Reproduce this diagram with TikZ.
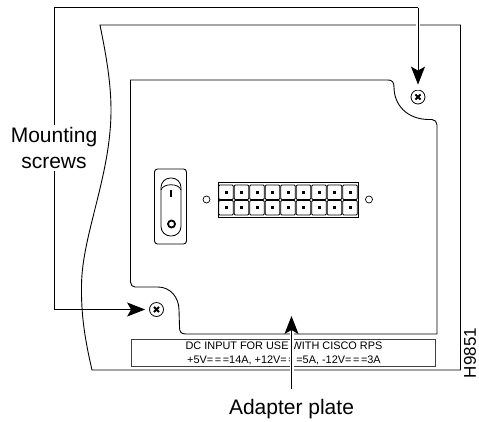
\documentclass[tikz,border=0pt]{standalone}
\usepackage{fontspec}
\setmainfont{Liberation Sans}
\usepackage{tikz}
\usetikzlibrary{shapes,arrows.meta}

\tikzset{
	outline/.style={draw=black,line width=0.9pt},
	callout/.style={draw=black,line width=0.9pt},
	halo/.style={draw=white,line width=4pt},
	tip/.style={-{Stealth[length=18pt,width=14pt,inset=4pt]}},
	biglabel/.style={font=\fontsize{21}{26}\selectfont,align=center},
	screw/.style={circle,draw=black,line width=0.8pt,minimum size=14pt,inner sep=0pt,
		path picture={\draw[line width=1.8pt] (path picture bounding box.center)+(-2.6,-2.6) -- +(2.6,2.6) (path picture bounding box.center)+(-2.6,2.6) -- +(2.6,-2.6);}},
	hole/.style={circle,draw=black,line width=0.7pt,minimum size=7pt,inner sep=0pt},
	cell/.style={rectangle,draw=black,line width=0.8pt,rounded corners=1pt,minimum width=14.5pt,minimum height=14.5pt,inner sep=0pt},
	pin/.style={rectangle,fill=black,minimum size=3pt,inner sep=0pt}
}
\newcommand{\dcsym}{=\kern1.6pt=\kern1.6pt=}

\begin{document}
\begin{tikzpicture}[x=1pt,y=-1pt]
	\useasboundingbox (0,0) rectangle (479,421);

	% chassis and plate
	\draw[outline] (100,25) -- (460.5,25) -- (460.5,370) -- (92,370)
		.. controls (85,340) and (81,315) .. (81.5,285)
		.. controls (82,235) and (111,175) .. (111,110)
		.. controls (111,80) and (105,50) .. (100,25) -- cycle;
	\draw[outline] (135,287) .. controls (132.5,287) and (130.5,285) .. (130.5,282) -- (130.5,80) -- (388,80)
		.. controls (392,80) and (394,82) .. (394,87)
		.. controls (394,105) and (407,119) .. (428,119.5)
		-- (432,119.5) .. controls (435,119.5) and (437,122) .. (437,125)
		-- (437,334) -- (186,334)
		.. controls (181,334) and (179.5,332) .. (179.5,327)
		-- (179,310) .. controls (179,297) and (170,287) .. (158,287) -- cycle;
	\node[rectangle,draw=black!75,line width=1pt,minimum width=304pt,minimum height=27pt,inner sep=0pt] (P) at (283,352.5) {};
	\node[font=\fontsize{10.9}{14}\selectfont,align=center] (Q) at (284,353.5) {DC INPUT FOR USE WITH CISCO RPS\\+5V\dcsym14A, +12V\dcsym5A, -12V\dcsym3A};

	% switch
	\node[rectangle,draw=black,line width=0.9pt,rounded corners=3pt,minimum width=32pt,minimum height=75pt] (S) at (170.5,206.5) {};
	\node[rectangle,draw=black,line width=0.8pt,rounded corners=9.5pt,minimum width=20pt,minimum height=58pt] (T) at (171,207) {};
	\draw[line width=0.8pt] (161,190) .. controls (163,183) and (179,183) .. (181,190);
	\node[rectangle,fill=black,minimum width=2.5pt,minimum height=7pt,inner sep=0pt] (U) at (171,193.5) {};
	\node[circle,draw=black,line width=1.8pt,minimum size=7pt,inner sep=0pt] (V) at (171.5,224) {};

	% terminal block
	\node[hole] (H1) at (206.5,199.5) {};
	\node[hole] (H2) at (369,199.5) {};
	\node[rectangle,draw=black,line width=0.8pt,minimum width=140.5pt,minimum height=35pt,inner sep=0pt] (B) at (288.5,200) {};
	\foreach \i in {0,...,8}{
		\node[cell] (C\i) at (226+15.5*\i,192.2) {};
		\node[cell] (D\i) at (226+15.5*\i,207.8) {};
		\node[pin] at (C\i) {};
		\node[pin] at (D\i) {};
	}

	% screws
	\node[screw] (A) at (418,97) {};
	\node[screw] (E) at (156.5,309.5) {};

	% labels
	\node[biglabel,fill=white,inner sep=2pt] (M) at (54,148) {Mounting\\screws};
	\node[biglabel,inner sep=2pt,outer ysep=8pt] (L) at (291.5,409) {Adapter plate};
	\node[rotate=90,font=\fontsize{17}{20}\selectfont,inner sep=0pt] (R) at (470,353) {H9851};

	\coordinate (F) at (418,7.5);
	\coordinate (G) at (291.5,316);

	% callouts
	\draw[halo] (F) -- (A);
	\draw[halo] (L.north) -- (G);
	\draw[callout] (M.north) |- (F);
	\draw[callout,tip,shorten >=5pt] (F) -- (A);
	\draw[callout,tip,shorten >=4pt] (M.south) |- (E);
	\draw[callout,tip] (L.north) -- (G);
\end{tikzpicture}
\end{document}
